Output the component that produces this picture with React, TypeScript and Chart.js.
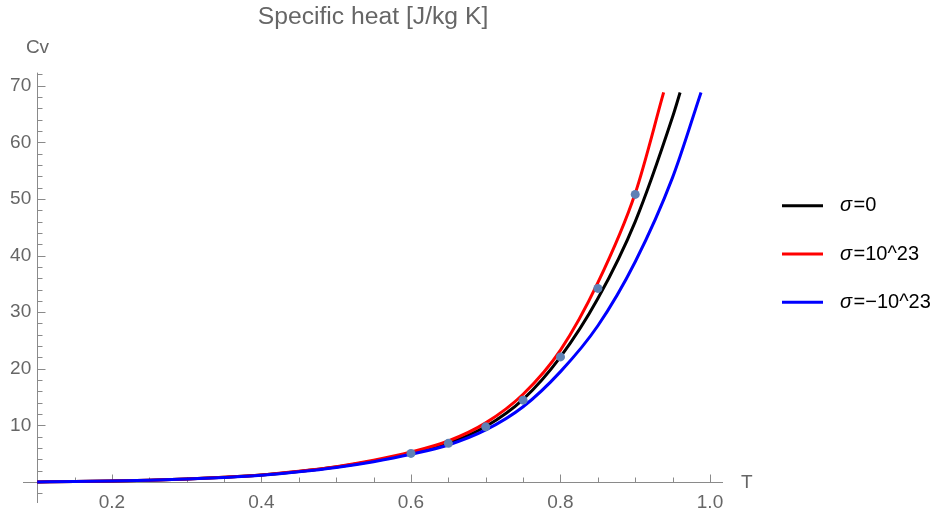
import { useEffect, useRef } from "react";
import { Chart, registerables } from "chart.js";

Chart.register(...registerables);

// ---- data ----
const T_BLACK = [0.1, 0.15, 0.2, 0.25, 0.3, 0.35, 0.4, 0.45, 0.5, 0.55, 0.6, 0.65, 0.7, 0.75, 0.8, 0.85, 0.9, 0.95, 0.96];
const CV_BLACK = [0.03, 0.08, 0.17, 0.32, 0.53, 0.83, 1.23, 1.85, 2.65, 3.7, 5.06, 6.85, 9.8, 14.6, 22.1, 32.4, 46.0, 64.5, 68.8];

const T_RED = [0.1, 0.15, 0.2, 0.25, 0.3, 0.35, 0.4, 0.45, 0.5, 0.55, 0.6, 0.65, 0.7, 0.75, 0.8, 0.85, 0.9, 0.938];
const CV_RED = [0.03, 0.08, 0.17, 0.32, 0.54, 0.85, 1.26, 1.9, 2.72, 3.85, 5.3, 7.25, 10.45, 15.5, 23.3, 35.2, 51.0, 68.8];

const T_BLUE = [0.1, 0.15, 0.2, 0.25, 0.3, 0.35, 0.4, 0.45, 0.5, 0.55, 0.6, 0.65, 0.7, 0.75, 0.8, 0.85, 0.9, 0.95, 0.988];
const CV_BLUE = [0.03, 0.08, 0.17, 0.31, 0.52, 0.81, 1.2, 1.8, 2.58, 3.6, 4.9, 6.55, 9.2, 13.3, 19.5, 27.6, 38.9, 53.8, 68.8];

const DOT_T = [0.6, 0.65, 0.7, 0.75, 0.8, 0.85, 0.9];
const DOT_CV = [5.06, 6.83, 9.75, 14.46, 22.1, 34.2, 50.8];

const X_TICKS = [0.2, 0.4, 0.6, 0.8, 1.0];
const X_MINOR = [0.15, 0.25, 0.3, 0.35, 0.45, 0.5, 0.55, 0.65, 0.7, 0.75, 0.85, 0.9, 0.95];
const Y_TICKS = [10, 20, 30, 40, 50, 60, 70];
const Y_MINOR = [-2, 2, 4, 6, 8, 12, 14, 16, 18, 22, 24, 26, 28, 32, 34, 36, 38, 42, 44, 46, 48, 52, 54, 56, 58, 62, 64, 66, 68, 72];

const SERIES_LABELS = ["=0", "=10^23", "=\u221210^23"];
const SERIES_COLORS = ["#000000", "#ff0000", "#0000ff"];

const TITLE = "Specific heat [J/kg K]";
const X_LABEL = "T";
const Y_LABEL = "Cv";

const FONT = "'Liberation Sans', Arial, Helvetica, sans-serif";
const TEXT_GRAY = "#666666";
const AXIS_GRAY = "#8a8a8a";

const Y_AXIS_AT = 0.1; // the vertical axis crosses the T axis here
const Y_LABEL_AT = 0.092; // right edge of the Cv tick labels (a little left of the axis)

const toXY = (xs: number[], ys: number[]) => xs.map((x, i) => ({ x, y: ys[i] }));

const axesPlugin = {
  id: "mmaAxes",
  beforeDatasetsDraw(chart: any) {
    const { ctx, scales } = chart;
    const xs = scales.x;
    const ys = scales.y;
    const x0 = Math.round(xs.getPixelForValue(Y_AXIS_AT)) + 0.5;
    const y0 = Math.round(ys.getPixelForValue(0)) + 0.5;
    ctx.save();
    ctx.strokeStyle = AXIS_GRAY;
    ctx.lineWidth = 1;
    ctx.beginPath();
    ctx.moveTo(xs.left, y0);
    ctx.lineTo(xs.right, y0);
    ctx.moveTo(x0, ys.top);
    ctx.lineTo(x0, ys.bottom);
    X_TICKS.forEach((v) => {
      const p = Math.round(xs.getPixelForValue(v)) + 0.5;
      ctx.moveTo(p, y0);
      ctx.lineTo(p, y0 - 8);
    });
    X_MINOR.forEach((v) => {
      const p = Math.round(xs.getPixelForValue(v)) + 0.5;
      ctx.moveTo(p, y0);
      ctx.lineTo(p, y0 - 5);
    });
    Y_TICKS.forEach((v) => {
      const p = Math.round(ys.getPixelForValue(v)) + 0.5;
      ctx.moveTo(x0, p);
      ctx.lineTo(x0 + 8, p);
    });
    Y_MINOR.forEach((v) => {
      const p = Math.round(ys.getPixelForValue(v)) + 0.5;
      ctx.moveTo(x0, p);
      ctx.lineTo(x0 + 5, p);
    });
    ctx.stroke();

    ctx.fillStyle = TEXT_GRAY;
    ctx.font = `19px ${FONT}`;
    ctx.textBaseline = "middle";
    ctx.textAlign = "center";
    ctx.fillText(Y_LABEL, x0, ys.top - 25);
    ctx.textAlign = "left";
    ctx.fillText(X_LABEL, xs.right + 18, y0);
    ctx.restore();
  },
  afterDraw(chart: any) {
    const { ctx } = chart;
    ctx.save();
    SERIES_LABELS.forEach((lab, i) => {
      const cy = 205.7 + i * 48.3;
      ctx.strokeStyle = SERIES_COLORS[i];
      ctx.lineWidth = 3;
      ctx.beginPath();
      ctx.moveTo(782, cy);
      ctx.lineTo(823, cy);
      ctx.stroke();
      ctx.fillStyle = "#000";
      ctx.textBaseline = "middle";
      ctx.textAlign = "left";
      ctx.font = `italic 20px ${FONT}`;
      ctx.fillText("\u03c3", 840, cy);
      const w = ctx.measureText("\u03c3").width;
      ctx.font = `20px ${FONT}`;
      ctx.fillText(lab, 840 + w + 1.5, cy);
    });
    ctx.restore();
  },
};

export default function App() {
  const ref = useRef<HTMLCanvasElement | null>(null);
  useEffect(() => {
    document.body.style.margin = "0";
    const canvas = ref.current;
    if (!canvas) return;
    const lineDs = (label: string, xs: number[], ys: number[], color: string, order: number) => ({
      type: "line" as const,
      label,
      data: toXY(xs, ys),
      borderColor: color,
      backgroundColor: color,
      borderWidth: 3,
      pointRadius: 0,
      cubicInterpolationMode: "monotone" as const,
      fill: false,
      order,
    });
    const chart = new Chart(canvas, {
      type: "line",
      data: {
        datasets: [
          {
            type: "scatter" as const,
            label: "points",
            data: toXY(DOT_T, DOT_CV),
            backgroundColor: "#5E81B5",
            borderWidth: 0,
            pointRadius: 4.5,
            showLine: false,
            order: 0,
          } as any,
          lineDs("\u03c3" + SERIES_LABELS[2], T_BLUE, CV_BLUE, SERIES_COLORS[2], 1),
          lineDs("\u03c3" + SERIES_LABELS[1], T_RED, CV_RED, SERIES_COLORS[1], 2),
          lineDs("\u03c3" + SERIES_LABELS[0], T_BLACK, CV_BLACK, SERIES_COLORS[0], 3),
        ],
      },
      options: {
        responsive: false,
        animation: false,
        layout: { padding: { left: 23, right: 217, top: 0, bottom: 12 } },
        plugins: {
          legend: { display: false },
          tooltip: { enabled: false },
          title: {
            display: true,
            text: TITLE,
            fullSize: false,
            color: TEXT_GRAY,
            font: { family: FONT, size: 24.7, weight: "normal" },
            padding: { top: 2, bottom: 41 },
          },
        },
        scales: {
          x: {
            type: "linear",
            min: 0.081,
            max: 1.0174,
            position: { y: 0 } as any,
            grid: { display: false, drawTicks: false },
            border: { display: false },
            afterBuildTicks: (s: any) => {
              s.ticks = X_TICKS.map((v) => ({ value: v }));
            },
            ticks: {
              color: TEXT_GRAY,
              font: { family: FONT, size: 19 },
              padding: 9,
              maxRotation: 0,
              autoSkip: false,
              callback: (v: any) => Number(v).toFixed(1),
            },
          },
          y: {
            type: "linear",
            min: -3.7,
            max: 72.3,
            position: { x: Y_LABEL_AT } as any,
            grid: { display: false, drawTicks: false },
            border: { display: false },
            afterBuildTicks: (s: any) => {
              s.ticks = Y_TICKS.map((v) => ({ value: v }));
            },
            ticks: {
              color: TEXT_GRAY,
              font: { family: FONT, size: 19 },
              padding: 0,
              autoSkip: false,
              callback: (v: any) => String(v),
            },
          },
        },
      },
      plugins: [axesPlugin],
    });
    return () => chart.destroy();
  }, []);
  return (
    <div style={{ position: "fixed", left: 0, top: 0, width: 940, height: 515 }}>
      <canvas ref={ref} width={940} height={515} style={{ width: 940, height: 515 }} />
    </div>
  );
}
